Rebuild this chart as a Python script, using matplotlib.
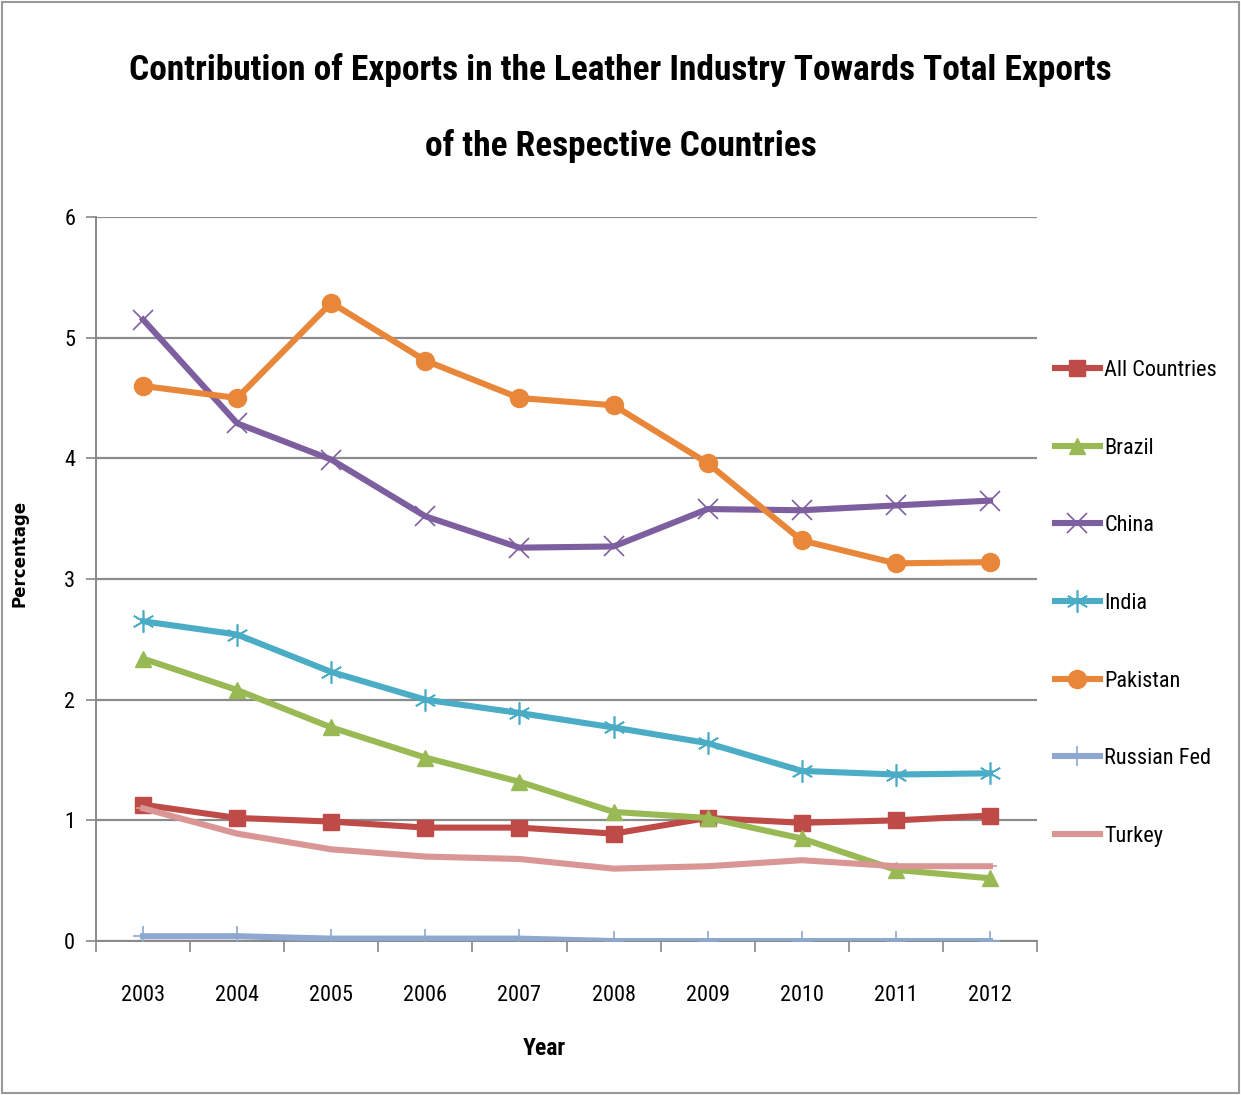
import matplotlib
matplotlib.use("Agg")
import matplotlib.pyplot as plt
from matplotlib import font_manager
from matplotlib.patches import Rectangle

# data
years = [2003, 2004, 2005, 2006, 2007, 2008, 2009, 2010, 2011, 2012]
all_countries = [1.13, 1.02, 0.99, 0.94, 0.94, 0.89, 1.02, 0.98, 1.00, 1.04]
brazil = [2.34, 2.08, 1.77, 1.52, 1.32, 1.07, 1.02, 0.85, 0.59, 0.52]
china = [5.15, 4.29, 3.99, 3.52, 3.26, 3.27, 3.58, 3.57, 3.61, 3.65]
india = [2.65, 2.54, 2.23, 2.00, 1.89, 1.77, 1.64, 1.41, 1.38, 1.39]
pakistan = [4.60, 4.50, 5.29, 4.81, 4.50, 4.44, 3.96, 3.32, 3.13, 3.14]
russian_fed = [0.04, 0.04, 0.02, 0.02, 0.02, 0.0, 0.0, 0.0, 0.0, 0.0]
turkey = [1.10, 0.89, 0.76, 0.70, 0.68, 0.60, 0.62, 0.67, 0.62, 0.62]

# look for a narrow font (the original uses Calibri)
names = {f.name for f in font_manager.fontManager.ttflist}
narrow = 'DejaVu Sans'
for cand in ['Liberation Sans Narrow', 'Roboto Condensed', 'Open Sans Condensed',
             'DejaVu Sans Condensed', 'Arial Narrow']:
    if cand in names:
        narrow = cand
        break
k = 1.0 if narrow != 'DejaVu Sans' else 0.8

plt.rcParams['font.family'] = [narrow, 'DejaVu Sans']

fig = plt.figure(figsize=(12.41, 10.95), dpi=100)
ax = fig.add_axes([0.0774, 0.1406, 0.7582, 0.6612])

# Excel style series: (label, values, color, marker, size)
series = [
    ('All Countries', all_countries, '#BE4B48', 's', 12),
    ('Brazil', brazil, '#98B954', '^', 12),
    ('China', china, '#7D5FA0', 'x', 14),
    ('India', india, '#4BACC6', (6, 2, 0), 16),
    ('Pakistan', pakistan, '#E8873A', 'o', 13),
    ('Russian Fed', russian_fed, '#8EA8D0', '+', 15),
    ('Turkey', turkey, '#D99694', '_', 10),
]

for label, vals, col, mk, ms in series:
    thin = mk in ('x', '+', '_') or isinstance(mk, tuple)
    ax.plot(years, vals, color=col, lw=4.4, marker=mk, markersize=ms,
            markeredgewidth=1.2 if thin else 1, markerfacecolor=col,
            markeredgecolor=col, label=label, zorder=3)

ax.set_xlim(2002.5, 2012.5)
ax.set_ylim(0, 6)
ax.set_yticks(range(0, 7))
ax.set_xticks(years)
ax.set_xticks([y + 0.5 for y in [2002] + years], minor=True)
ax.tick_params(axis='x', which='major', length=0, pad=32, labelsize=16 * k)
ax.tick_params(axis='x', which='minor', length=8, color='#888888', width=1.2)
ax.tick_params(axis='y', length=7, color='#888888', width=1.2, labelsize=16 * k, pad=8)
ax.yaxis.grid(True, color='#8c8c8c', lw=1.6)
ax.set_axisbelow(True)
for s in ['top', 'right']:
    ax.spines[s].set_visible(False)
for s in ['left', 'bottom']:
    ax.spines[s].set_color('#888888')
    ax.spines[s].set_linewidth(1.4)

ax.set_xlabel('Year', fontsize=17 * k, fontweight='bold')
ax.xaxis.set_label_coords(0.476, -0.133)
fig.text(0.016, 0.495, 'Percentage', rotation=90, fontsize=12, fontweight='bold',
         family=['DejaVu Sans'], ha='center', va='center')

fig.text(0.5, 0.936, 'Contribution of Exports in the Leather Industry Towards Total Exports',
         ha='center', va='center', fontsize=25.5 * k, fontweight='bold')
fig.text(0.5, 0.867, 'of the Respective Countries',
         ha='center', va='center', fontsize=25.5 * k, fontweight='bold')

ax.legend(loc='upper left', bbox_to_anchor=(1.01, 0.815), frameon=False,
          fontsize=16 * k, labelspacing=2.55 / k, handlelength=2.0, handletextpad=0.2,
          borderaxespad=0)

fig.patches.append(Rectangle((0.002, 0.002), 0.996, 0.996, transform=fig.transFigure,
                             fill=False, edgecolor='#999999', lw=1.5))

fig.savefig('out.png', dpi=100)
